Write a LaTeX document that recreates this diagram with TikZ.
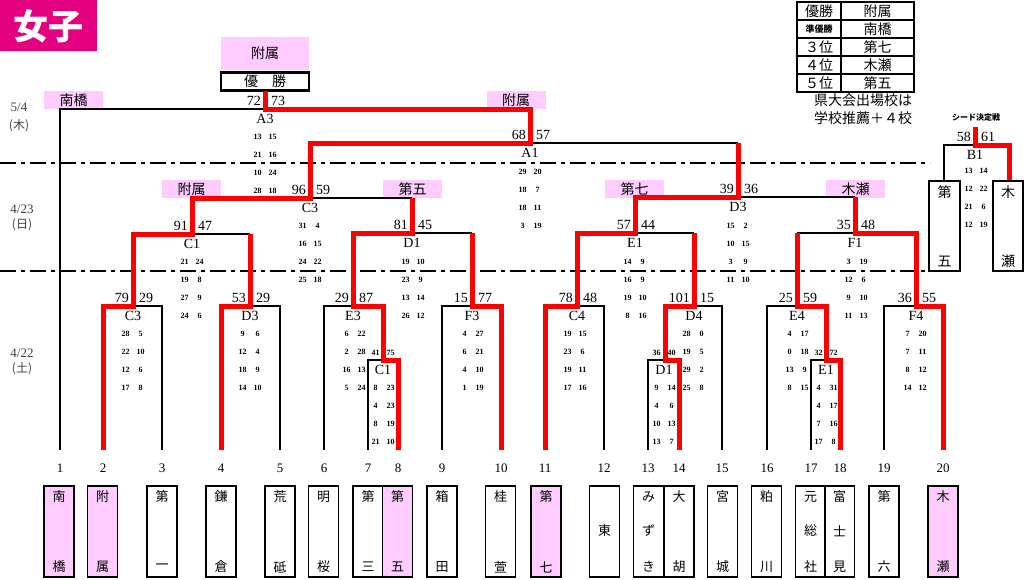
\documentclass[tikz,border=0pt]{standalone}
\usepackage{fontspec}
\setmainfont{Liberation Serif}
\newfontfamily\jp{Noto Sans CJK JP}
\definecolor{pk}{RGB}{255,204,255}
\definecolor{rd}{RGB}{255,0,0}
\definecolor{mg}{RGB}{228,0,127}
\newcommand\mypairs[3]{\foreach \a/\b [count=\i from 0] in {#3}{%
  \node[sm] (p#1x#2x\i a) at ({#1-7.5},{#2+18*\i}) {\a};
  \node[sm] (p#1x#2x\i b) at ({#1+7.5},{#2+18*\i}) {\b};}}
\newcommand\bigpair[6]{%
  \node[big,anchor=east] (#6L) at ({#1-4},{#2-8.5}) {#3};
  \node[big,anchor=west] (#6R) at ({#1+6},{#2-8.5}) {#4};
  \node[lab] (#6) at (#1,{#2+10}) {#5};}
\begin{document}
\begin{tikzpicture}[x=1pt,y=-1pt,
  bl/.style={draw=black,line width=1.6pt},
  rl/.style={draw=rd,line width=5pt,line join=miter},
  big/.style={font=\fontsize{14}{14}\selectfont,inner sep=0pt},
  sm/.style={font=\fontsize{8}{8}\selectfont\bfseries,inner sep=0pt},
  lab/.style={font=\fontsize{14}{14}\selectfont,inner sep=0pt},
  num/.style={font=\fontsize{13}{13}\selectfont,inner sep=0pt},
  datel/.style={font=\fontsize{13}{13}\selectfont,inner sep=0pt,text=black!75},
  pinkbox/.style={fill=pk,minimum width=59pt,minimum height=18pt,inner sep=0pt,font=\jp\fontsize{14}{14}\selectfont},
  jch/.style={font=\jp\fontsize{13}{13}\selectfont,inner sep=0pt},
  jbig/.style={font=\jp\fontsize{14}{14}\selectfont,inner sep=0pt},
  namebox/.style={draw=black,line width=1.6pt,minimum width=30pt,minimum height=91pt,inner sep=0pt},
  dashdot/.style={draw=black,line width=1.6pt,dash pattern=on 16pt off 5pt on 4pt off 5pt}]
\useasboundingbox (0,0) rectangle (1024,579);
% title
\fill[mg] (0,0) rectangle (97,51);
\node[font=\jp\bfseries\fontsize{35}{35}\selectfont,text=white,inner sep=0pt] (title) at (48.5,26) {女子};
% winner
\node[pinkbox,minimum width=88pt,minimum height=33pt] (champ) at (265,53.5) {附属};
\node[draw=black,line width=2.6pt,minimum width=88pt,minimum height=18pt,inner sep=0pt,font=\jp\fontsize{14}{14}\selectfont] (yusho) at (265,81.5) {優\hspace{1em}勝};
% pink labels
\node[pinkbox] (lbA) at (73.5,100) {南橋};
\node[pinkbox] (lbB) at (516,100) {附属};
\node[pinkbox] (lbC) at (191.5,189) {附属};
\node[pinkbox] (lbD) at (412.5,189) {第五};
\node[pinkbox] (lbE) at (634.5,189) {第七};
\node[pinkbox] (lbF) at (855.5,189) {木瀬};
% dash-dot day separators
\draw[dashdot] (0,163) -- (930,163);
\draw[dashdot] (0,271) -- (929,271);
% dates
\node[datel] (d1) at (19,107) {5/4};
\node[datel,font=\jp\fontsize{12}{12}\selectfont] (d1b) at (19,126) {(木)};
\node[datel] (d2) at (22,209) {4/23};
\node[datel,font=\jp\fontsize{12}{12}\selectfont] (d2b) at (22,225) {(日)};
\node[datel] (d3) at (22,353) {4/22};
\node[datel,font=\jp\fontsize{12}{12}\selectfont] (d3b) at (22,369) {(土)};
% black bracket lines
\draw[bl] (60,450) -- (60,109) -- (265,109);
\draw[bl] (133,306) -- (162,306) -- (162,450);
\draw[bl] (250,306) -- (280,306) -- (280,450);
\draw[bl] (192,234) -- (250,234);
\draw[bl] (324,450) -- (324,306) -- (353,306);
\draw[bl] (368,450) -- (368,360) -- (383,360);
\draw[bl] (442,450) -- (442,306) -- (472,306);
\draw[bl] (412,233) -- (472,233);
\draw[bl] (310,198) -- (412,198);
\draw[bl] (530,143) -- (738,143);
\draw[bl] (577,306) -- (604,306) -- (604,450);
\draw[bl] (648,450) -- (648,360) -- (665,360);
\draw[bl] (694,306) -- (722,306) -- (722,450);
\draw[bl] (635,233) -- (694,233);
\draw[bl] (738,197) -- (855,197);
\draw[bl] (767,450) -- (767,306) -- (797,306);
\draw[bl] (811,450) -- (811,360) -- (826,360);
\draw[bl] (884,450) -- (884,306) -- (916,306);
\draw[bl] (797,233) -- (855,233);
\draw[bl] (944,181) -- (944,145) -- (975,145);
% red winner paths
\draw[rl] (103,450) -- (103,306) -- (133,306) -- (133,234) -- (192,234) -- (192,198) -- (310,198) -- (310,143) -- (530,143) -- (530,109) -- (265,109) -- (265,90.5);
\draw[rl] (398,450) -- (398,360) -- (383,360) -- (383,306) -- (353,306) -- (353,233) -- (412,233) -- (412,198);
\draw[rl] (221,450) -- (221,306) -- (250,306) -- (250,234);
\draw[rl] (501,450) -- (501,306) -- (472,306) -- (472,233);
\draw[rl] (545,450) -- (545,306) -- (577,306) -- (577,233) -- (635,233) -- (635,197) -- (738,197) -- (738,143);
\draw[rl] (679,450) -- (679,360) -- (665,360) -- (665,306) -- (694,306) -- (694,233);
\draw[rl] (840,450) -- (840,360) -- (826,360) -- (826,306) -- (797,306) -- (797,233);
\draw[rl] (943,450) -- (943,306) -- (916,306) -- (916,233) -- (855,233) -- (855,197);
\draw[rl] (1009,181) -- (1009,145) -- (975,145) -- (975,127);
% big scores and match labels
\bigpair{265}{109}{72}{73}{A3}{mA3}
\bigpair{530}{143}{68}{57}{A1}{mA1}
\bigpair{310}{198}{96}{59}{C3}{mC3c}
\bigpair{738}{197}{39}{36}{D3}{mD3c}
\bigpair{192}{234}{91}{47}{C1}{mC1b}
\bigpair{412}{233}{81}{45}{D1}{mD1b}
\bigpair{635}{233}{57}{44}{E1}{mE1b}
\bigpair{855}{233}{35}{48}{F1}{mF1b}
\bigpair{133}{306}{79}{29}{C3}{mC3}
\bigpair{250}{306}{53}{29}{D3}{mD3}
\bigpair{353}{306}{29}{87}{E3}{mE3}
\bigpair{472}{306}{15}{77}{F3}{mF3}
\bigpair{577}{306}{78}{48}{C4}{mC4}
\bigpair{694}{306}{101}{15}{D4}{mD4}
\bigpair{797}{306}{25}{59}{E4}{mE4}
\bigpair{916}{306}{36}{55}{F4}{mF4}
\bigpair{975}{145}{58}{61}{B1}{mB1}
\node[lab] (mC1a) at (383,370) {C1};
\node[lab] (mD1a) at (664,370) {D1};
\node[lab] (mE1a) at (826,370) {E1};
% small set scores
\mypairs{265}{137}{13/15,21/16,10/24,28/18}
\mypairs{530}{172}{29/20,18/7,18/11,3/19}
\mypairs{310}{226}{31/4,16/15,24/22,25/18}
\mypairs{738}{226}{15/2,10/15,3/9,11/10}
\mypairs{192}{262}{21/24,19/8,27/9,24/6}
\mypairs{413}{262}{19/10,23/9,13/14,26/12}
\mypairs{635}{262}{14/9,16/9,19/10,8/16}
\mypairs{856}{262}{3/19,12/6,9/10,11/13}
\mypairs{133}{334}{28/5,22/10,12/6,17/8}
\mypairs{250}{334}{9/6,12/4,18/9,14/10}
\mypairs{354}{334}{6/22,2/28,16/13,5/24}
\mypairs{472}{334}{4/27,6/21,4/10,1/19}
\mypairs{575}{334}{19/15,23/6,19/11,17/16}
\mypairs{694}{334}{28/0,19/5,29/2,25/8}
\mypairs{797}{334}{4/17,0/18,13/9,8/15}
\mypairs{915}{334}{7/20,7/11,8/12,14/12}
\mypairs{383}{353}{41/75}
\mypairs{383}{388}{8/23,4/23,8/19,21/10}
\mypairs{664}{353}{36/40}
\mypairs{664}{388}{9/14,4/6,10/13,13/7}
\mypairs{826}{353}{32/72}
\mypairs{826}{388}{4/31,4/17,7/16,17/8}
\mypairs{976}{171}{13/14,12/22,21/6,12/19}
% seed decision match
\node[font=\jp\bfseries\fontsize{8}{8}\selectfont,inner sep=0pt] (seed) at (976,117) {シード決定戦};
\draw[bl] (929,181) rectangle (960,271);
\draw[bl] (993,181) rectangle (1023,271);
\node[jbig] (s1a) at (944.5,192) {第};
\node[jbig] (s1b) at (944.5,261) {五};
\node[jbig] (s2a) at (1008,192) {木};
\node[jbig] (s2b) at (1008,261) {瀬};
% ranking table
\draw[line width=1.8pt] (797,2) rectangle (914,92);
\foreach \yy in {20,38,56,74} \draw[line width=1.8pt] (797,\yy) -- (914,\yy);
\draw[line width=1.8pt] (841,2) -- (841,92);
\node[jbig] (t1a) at (819,11) {優勝};
\node[jch,font=\jp\bfseries\fontsize{9}{9}\selectfont] (t2a) at (819,29) {準優勝};
\node[jbig] (t3a) at (819,47) {３位};
\node[jbig] (t4a) at (819,65) {４位};
\node[jbig] (t5a) at (819,83) {５位};
\node[jbig] (t1b) at (877.5,11) {附属};
\node[jbig] (t2b) at (877.5,29) {南橋};
\node[jbig] (t3b) at (877.5,47) {第七};
\node[jbig] (t4b) at (877.5,65) {木瀬};
\node[jbig] (t5b) at (877.5,83) {第五};
\node[jbig] (note1) at (863,100) {県大会出場校は};
\node[jbig] (note2) at (863,118) {学校推薦＋４校};
% column numbers
\foreach \n/\xx in {1/60,2/103,3/162,4/221,5/280,6/324,7/368,8/398,9/442,10/501,11/545,12/604,13/648,14/679,15/722,16/767,17/811,18/840,19/884,20/943}
  \node[num] (n\n) at (\xx,468) {\n};
% team name boxes
\foreach \xx/\t/\bb/\f in {59/南/橋/1,102.5/附/属/1,162/第/一/0,221/鎌/倉/0,280/荒/砥/0,323.5/明/桜/0,368/第/三/0,397.5/第/五/1,442/箱/田/0,500.5/桂/萱/0,546/第/七/1,679/大/胡/0,722.5/宮/城/0,766.5/粕/川/0,884/第/六/0,943/木/瀬/1}{
  \ifnum\f=1 \node[namebox,fill=pk] (b\xx) at (\xx,531.5) {};
  \else \node[namebox] (b\xx) at (\xx,531.5) {}; \fi
  \node[jch] at (\xx,497) {\t};
  \node[jch] at (\xx,567) {\bb};
}
\node[namebox] (b12) at (604.5,531.5) {};
\node[jch] at (604.5,531) {東};
\node[namebox] (b13) at (648.5,531.5) {};
\node[jch] at (648.5,497) {み};
\node[jch] at (648.5,531) {ず};
\node[jch] at (648.5,567) {き};
\node[namebox] (b17) at (810.5,531.5) {};
\node[jch] at (810.5,497) {元};
\node[jch] at (810.5,531) {総};
\node[jch] at (810.5,567) {社};
\node[namebox] (b18) at (839.5,531.5) {};
\node[jch] at (839.5,497) {富};
\node[jch] at (839.5,531) {士};
\node[jch] at (839.5,567) {見};
\end{tikzpicture}
\end{document}
